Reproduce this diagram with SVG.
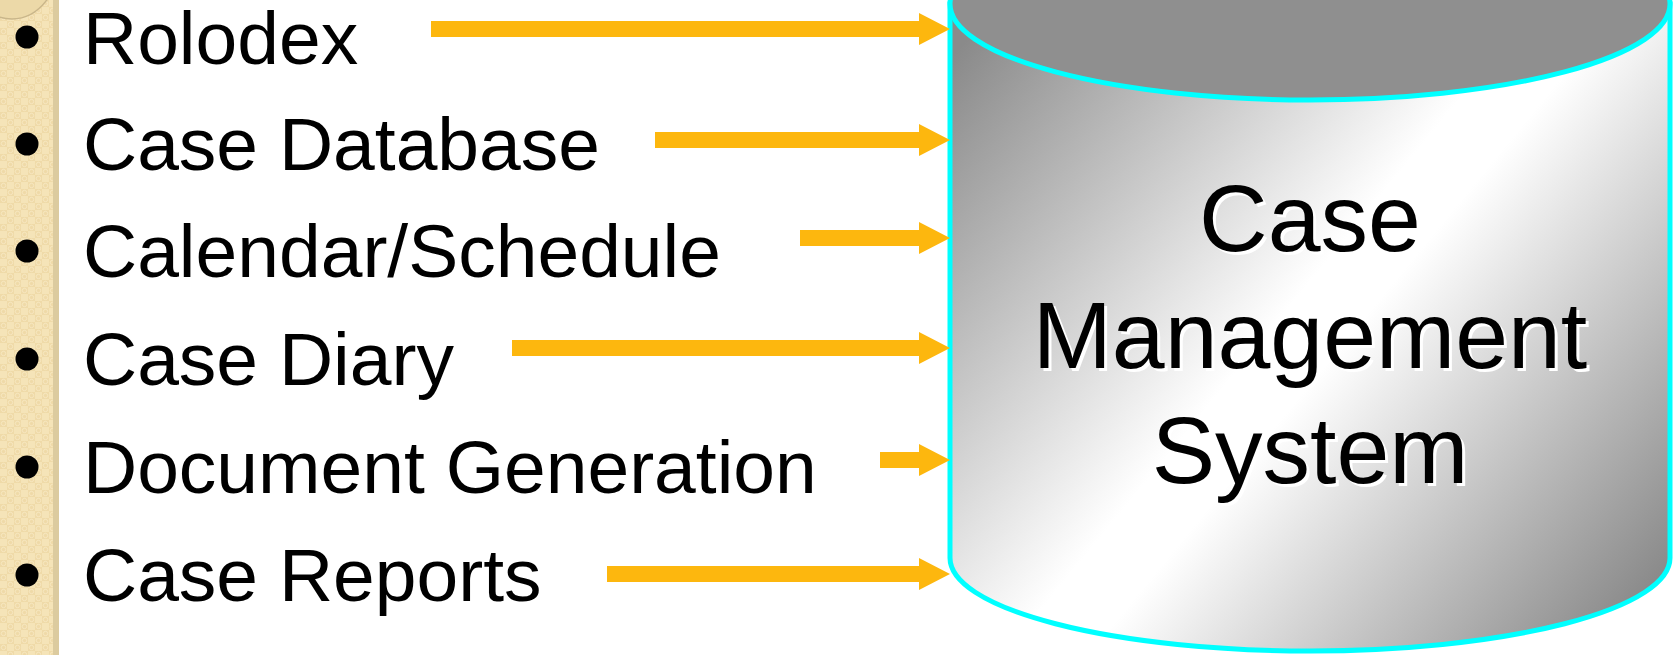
<svg xmlns="http://www.w3.org/2000/svg" width="1679" height="655" viewBox="0 0 1679 655">
  <style>
    .item { font-family: "Liberation Sans", Arial, sans-serif; font-size: 75px; fill: #000; }
    .bullet { fill: #000; }
    .big { font-family: "Liberation Sans", Arial, sans-serif; font-size: 95px; text-anchor: middle; }
    .shadow { fill: #ffffff; }
    .ink { fill: #000000; }
    .conn { stroke: #fdb70e; stroke-width: 16; fill: none; marker-end: url(#head); }
    .cyl { stroke: #00ffff; stroke-width: 5; }
  </style>
  <defs>
    <marker id="head" markerUnits="userSpaceOnUse" markerWidth="31" markerHeight="32" refX="0" refY="16" orient="auto">
      <path d="M0,0 L31,16 L0,32 Z" fill="#fdb70e"/>
    </marker>
    <pattern id="tex" width="14" height="14" patternUnits="userSpaceOnUse">
      <rect width="14" height="14" fill="#f5e4b8"/>
      <rect width="7" height="7" fill="#efdaa8"/>
      <rect x="7" y="7" width="7" height="7" fill="#efdaa8"/>
      <circle cx="3.5" cy="3.5" r="2.2" fill="none" stroke="#f7e9c4" stroke-width="0.8"/>
      <circle cx="10.5" cy="10.5" r="2.2" fill="none" stroke="#f7e9c4" stroke-width="0.8"/>
    </pattern>
    <linearGradient id="body" gradientUnits="userSpaceOnUse" x1="950" y1="60" x2="1670" y2="650">
      <stop offset="0" stop-color="#8a8a8a"/>
      <stop offset="0.45" stop-color="#ffffff"/>
      <stop offset="0.52" stop-color="#ffffff"/>
      <stop offset="1" stop-color="#7a7a7a"/>
    </linearGradient>
  </defs>

  <rect width="1679" height="655" fill="#ffffff"/>

  <!-- left textured strip -->
  <g id="strip">
    <rect x="0" y="0" width="59" height="655" fill="url(#tex)"/>
    <rect x="53" y="0" width="6" height="655" fill="#dccb9f"/>
    <ellipse cx="12" cy="-42" rx="48" ry="61" fill="#ecd9a8" stroke="#c9b68a" stroke-width="1.5"/>
  </g>

  <!-- cylinder node -->
  <g id="cms">
    <path class="cyl" d="M950,4 L950,558 A360,93 0 0 0 1670,558 L1670,4 Z" fill="url(#body)"/>
    <ellipse class="cyl" cx="1310" cy="4" rx="360" ry="96" fill="#8f8f8f"/>
    <g class="big">
      <text class="shadow" x="1313" y="254">Case</text>
      <text class="ink" x="1310" y="251">Case</text>
      <text class="shadow" x="1313" y="371">Management</text>
      <text class="ink" x="1310" y="368">Management</text>
      <text class="shadow" x="1313" y="486">System</text>
      <text class="ink" x="1310" y="483">System</text>
    </g>
  </g>

  <!-- list items -->
  <g id="item-rolodex">
    <circle class="bullet" cx="27" cy="37" r="11.5"/>
    <text class="item" x="83" y="64">Rolodex</text>
  </g>
  <g id="item-casedb">
    <circle class="bullet" cx="27" cy="144" r="11.5"/>
    <text class="item" x="83" y="170">Case Database</text>
  </g>
  <g id="item-calendar">
    <circle class="bullet" cx="27" cy="251" r="11.5"/>
    <text class="item" x="83" y="277">Calendar/Schedule</text>
  </g>
  <g id="item-diary">
    <circle class="bullet" cx="27" cy="359" r="11.5"/>
    <text class="item" x="83" y="385">Case Diary</text>
  </g>
  <g id="item-docgen">
    <circle class="bullet" cx="27" cy="467" r="11.5"/>
    <text class="item" x="83" y="493">Document Generation</text>
  </g>
  <g id="item-reports">
    <circle class="bullet" cx="27" cy="575" r="11.5"/>
    <text class="item" x="83" y="601">Case Reports</text>
  </g>

  <!-- connectors -->
  <g id="connectors">
    <line class="conn" x1="431" y1="29" x2="919" y2="29"/>
    <line class="conn" x1="655" y1="140" x2="919" y2="140"/>
    <line class="conn" x1="800" y1="238" x2="919" y2="238"/>
    <line class="conn" x1="512" y1="348" x2="919" y2="348"/>
    <line class="conn" x1="880" y1="460" x2="919" y2="460"/>
    <line class="conn" x1="607" y1="574" x2="919" y2="574"/>
  </g>
</svg>
